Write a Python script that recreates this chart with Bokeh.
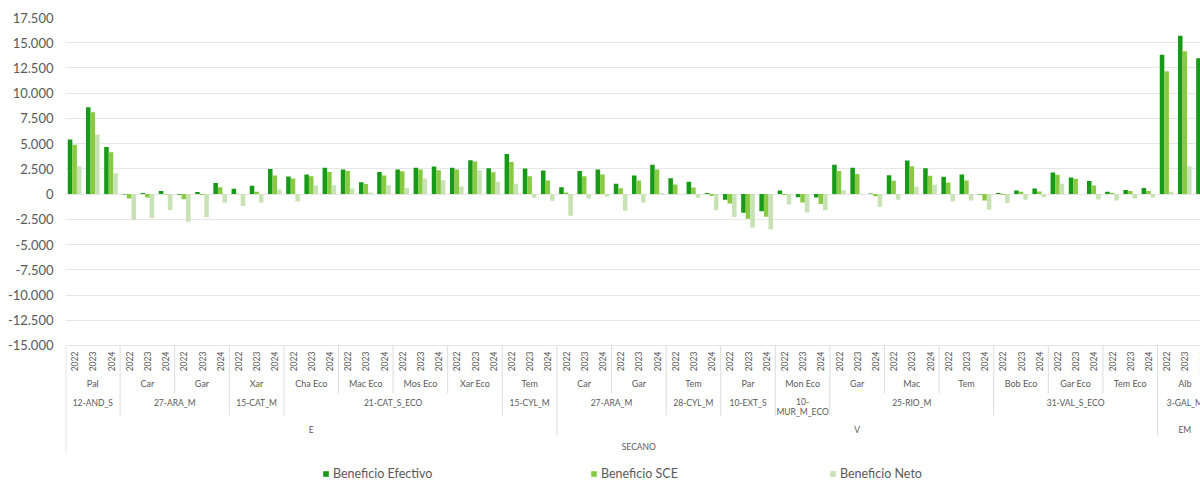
import math
from bokeh.plotting import figure
from bokeh.models import Range1d, FixedTicker, CustomJSTickFormatter, Legend, LegendItem
from bokeh.core.properties import value
from bokeh.embed import file_html
from bokeh.resources import INLINE

# ---------------- data ----------------
years = ["2022", "2023", "2024"]
groups = ["E"] * 9 + ["V"] * 11 + ["EM"]
regions = ["12-AND_S", "27-ARA_M", "27-ARA_M", "15-CAT_M",
           "21-CAT_S_ECO", "21-CAT_S_ECO", "21-CAT_S_ECO", "21-CAT_S_ECO", "15-CYL_M",
           "27-ARA_M", "27-ARA_M", "28-CYL_M", "10-EXT_S", "10-MUR_M_ECO",
           "25-RIO_M", "25-RIO_M", "25-RIO_M",
           "31-VAL_S_ECO", "31-VAL_S_ECO", "31-VAL_S_ECO", "3-GAL_M"]
crops = ["Pal", "Car", "Gar", "Xar", "Cha Eco", "Mac Eco", "Mos Eco", "Xar Eco", "Tem",
         "Car", "Gar", "Tem", "Par", "Mon Eco", "Gar", "Mac", "Tem",
         "Bob Eco", "Gar Eco", "Tem Eco", "Alb"]
top_level = "SECANO"

efectivo = [5400, 8600, 4670, -50, 100, 300, -70, 200, 1090, 530, 820, 2500,
            1740, 1940, 2600, 2430, 1180, 2200, 2430, 2600, 2730, 2600, 3360, 2570,
            3980, 2530, 2340, 690, 2300, 2430, 1020, 1840, 2900, 1580, 1220, 100,
            -560, -1840, -1710, 360, -300, -330, 2900, 2600, 70, 1870, 3320, 2570,
            1720, 1950, -30, 100, 360, 560, 2150, 1650, 1290, 230, 400, 600,
            13800, 15700, 13470]
sce = [4900, 8100, 4140, -430, -330, -50, -500, -100, 690, 30, 230, 1840,
       1550, 1780, 2200, 2300, 1000, 1840, 2270, 2430, 2370, 2430, 3220, 2170,
       3190, 1780, 1350, 160, 1780, 1940, 590, 1350, 2430, 950, 660, -160,
       -920, -2430, -2240, -100, -820, -990, 2300, 2000, -200, 1320, 2760, 1820,
       1160, 1350, -630, -100, 230, 260, 1910, 1520, 860, 100, 300, 300,
       12180, 14160, 12000]
neto = [2760, 5900, 2070, -2570, -2400, -1580, -2730, -2300, -820, -1180, -820, 460,
        -720, 890, 890, 560, 160, 890, 600, 1550, 1380, 760, 2370, 1220,
        1020, -360, -660, -2140, -430, -230, -1640, -820, 100, 30, -360, -1580,
        -2270, -3320, -3490, -1020, -1810, -1610, 390, 40, -1250, -560, 720, 920,
        -730, -630, -1550, -890, -560, -300, 1020, 20, -530, -630, -430, -330,
        230, 2770, 1500]

series_names = ["Beneficio Efectivo", "Beneficio SCE", "Beneficio Neto"]
series_values = [efectivo, sce, neto]
colors = ["#179a17", "#88ca41", "#c8e2b6"]

# ---------------- layout ----------------
FONT = value("Lato")
TXT = "#595959"
SEP = "#dcdcdc"
W, H = 1200, 482
LEFT, TOP = 65, 17
Y_MAX = 17500
PX_PER_UNIT = 10.092 / 1000.0
FRAME_TOP_IMG = TOP
y_min = Y_MAX - (H - TOP) / PX_PER_UNIT
X_END = (W - LEFT) / 18.2


def yv(img_y):
    """image pixel row -> data value (for the label table under the plot)"""
    return Y_MAX - (img_y - FRAME_TOP_IMG) / PX_PER_UNIT


n = len(crops) * len(years)
xs = [i + 0.5 for i in range(n)]

p = figure(width=W, height=H, output_backend="svg", toolbar_location=None,
           x_range=Range1d(0, X_END), y_range=Range1d(y_min, Y_MAX),
           x_axis_type=None, min_border_left=LEFT, min_border_right=0,
           min_border_top=TOP, min_border_bottom=0)
p.outline_line_color = None
p.background_fill_color = "white"
p.border_fill_color = "white"

yax = p.yaxis[0]
yax.ticker = FixedTicker(ticks=list(range(-15000, 17501, 2500)))
yax.formatter = CustomJSTickFormatter(code="""
const s = Math.abs(tick).toFixed(0).replace(/\\B(?=(\\d{3})+(?!\\d))/g, '.');
return (tick < 0 ? '-' : '') + s;
""")
yax.axis_line_color = None
yax.major_tick_line_color = None
yax.minor_tick_line_color = None
yax.major_tick_out = 0
yax.major_tick_in = 0
yax.major_label_standoff = 12
yax.major_label_text_font = "Lato"
yax.major_label_text_font_size = "13px"
yax.major_label_text_color = TXT
p.ygrid.grid_line_color = "#e6e6e6"
p.ygrid.grid_line_width = 1

# bars
renderers = []
for k, (vals, col) in enumerate(zip(series_values, colors)):
    bx = [c + (k - 1) * 0.25 for c in xs]
    r = p.vbar(x=bx, top=vals, bottom=0, width=0.25, fill_color=col, line_color=None)
    renderers.append(r)

# ---- label table ----
LBL = "8.5px"
p.text(x=xs, y=[yv(361)] * n, text=years * len(crops), angle=math.pi / 2,
       text_align="center", text_baseline="middle", text_font=FONT,
       text_font_size="8.5px", text_color=TXT)
cx = [3 * i + 1.5 for i in range(len(crops))]
p.text(x=cx, y=[yv(382.5)] * len(crops), text=crops, text_align="center",
       text_baseline="middle", text_font=FONT, text_font_size="9px", text_color=TXT)


def runs(keys):
    out = []
    start = 0
    for i in range(1, len(keys) + 1):
        if i == len(keys) or keys[i] != keys[start]:
            out.append((start, i, keys[start]))
            start = i
    return out


reg_keys = list(zip(groups, regions))
rx, ry, rt = [], [], []
for s, e, key in runs(reg_keys):
    c = (3 * s + 3 * e) / 2
    name = key[1]
    if (e - s) == 1 and len(name) > 10 and "-" in name:
        a, b = name.split("-", 1)
        rx += [c, c]
        ry += [yv(401), yv(411.5)]
        rt += [a + "-", b]
    else:
        rx.append(c)
        ry.append(yv(402))
        rt.append(name)
p.text(x=rx, y=ry, text=rt, text_align="center", text_baseline="middle",
       text_font=FONT, text_font_size=LBL, text_color=TXT)

gx, gt = [], []
for s, e, key in runs(groups):
    gx.append((3 * s + 3 * e) / 2)
    gt.append(key)
p.text(x=gx, y=[yv(429)] * len(gx), text=gt, text_align="center",
       text_baseline="middle", text_font=FONT, text_font_size=LBL, text_color=TXT)
p.text(x=[n / 2], y=[yv(446.5)], text=[top_level], text_align="center",
       text_baseline="middle", text_font=FONT, text_font_size=LBL, text_color=TXT)

# separators
sx, sy0, sy1 = [0.02], [yv(345)], [yv(453)]
for i in range(1, len(crops)):
    if groups[i] != groups[i - 1]:
        bottom = 435
    elif regions[i] != regions[i - 1]:
        bottom = 415
    else:
        bottom = 393
    sx.append(3 * i)
    sy0.append(yv(345))
    sy1.append(yv(bottom))
p.segment(x0=sx, x1=sx, y0=sy0, y1=sy1, line_color=SEP, line_width=1)

# legends
legend_pos = [(257, 1), (525, 1), (764, 1)]
for name, r, loc in zip(series_names, renderers, legend_pos):
    lg = Legend(items=[LegendItem(label=name, renderers=[r])], location=loc,
                orientation="horizontal", glyph_width=7, glyph_height=7,
                label_standoff=4, label_height=12, padding=0, margin=0, spacing=0,
                border_line_color=None, background_fill_alpha=0,
                label_text_font="Lato", label_text_font_size="12.5px",
                label_text_color=TXT)
    p.add_layout(lg, "center")

open("out.html", "w").write(file_html(p, INLINE))
